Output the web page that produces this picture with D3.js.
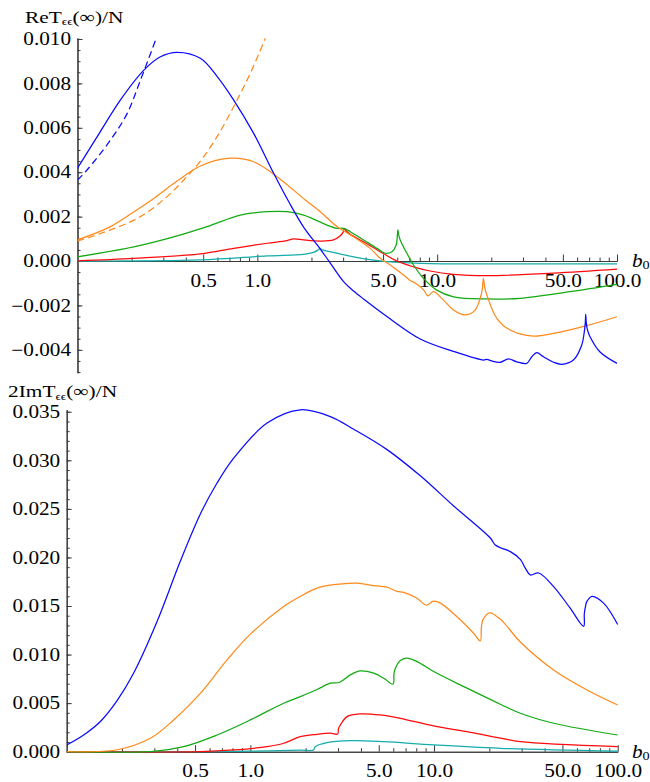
<!DOCTYPE html>
<html>
<head>
<meta charset="utf-8">
<script src="https://cdn.jsdelivr.net/npm/d3@7"></script>
<style>
  body { margin: 0; background: #fff; }
  text { font-family: "Liberation Serif", "Times New Roman", serif; fill: #000; }
</style>
</head>
<body>
<svg id="chart" width="650" height="782"></svg>
<script>
"use strict";

// axe des b0 (log) : graduations communes aux deux panneaux
var xMajorTicks = [0.5, 1, 5, 10, 50, 100]
var xTickLabels = ["0.5", "1.0", "5.0", "10.0", "50.0", "100.0"]

// panneau du haut : ReT(inf)/N
var reYTicks = [-0.004, -0.002, 0, 0.002, 0.004, 0.006, 0.008, 0.010]
var reBlue = [[0.1,0.00418],[0.134,0.00583],[0.173,0.00725],[0.234,0.0086],[0.289,0.0092],[0.358,0.0094],[0.482,0.00913],[0.597,0.00832],[0.739,0.00725],[0.954,0.00575],[1.232,0.00395],[1.493,0.00268],[1.808,0.00153],[2.239,0.00054],[2.489,0.00002],[3.017,-0.00093],[3.428,-0.00135],[3.896,-0.00171],[5.255,-0.0025],[8.05,-0.00351],[12.3,-0.00407],[18.1,-0.00446],[18.9,-0.00443],[20.1,-0.0045],[22.4,-0.00456],[24.9,-0.00441],[27.7,-0.00454],[31.5,-0.00461],[33.6,-0.00431],[35.8,-0.00413],[39.0,-0.00431],[44.3,-0.00456],[49.3,-0.00465],[57.2,-0.00446],[63.7,-0.00378],[65.6,-0.00326],[66.6,-0.0028],[67.0,-0.0024],[67.5,-0.0028],[68.5,-0.0031],[70.8,-0.00341],[80.5,-0.0041],[100,-0.00461]]
var reBlueDash = [[0.1,0.00365],[0.113,0.0041],[0.1526,0.00545],[0.189,0.00665],[0.224,0.00815],[0.274,0.01003]]
var reOrange = [[0.1,0.00095],[0.1526,0.00155],[0.2055,0.00221],[0.2654,0.00282],[0.358,0.0036],[0.482,0.00428],[0.708,0.00463],[0.954,0.00447],[1.286,0.0038],[1.848,0.00275],[2.239,0.00222],[2.773,0.00155],[3.428,0.00109],[4.245,0.00057],[4.824,0.00012],[5.483,-0.00018],[6.498,-0.00063],[7.079,-0.00088],[7.5,-0.00098],[8.4,-0.0013],[8.9,-0.00157],[9.54,-0.00138],[10.84,-0.00176],[12.32,-0.00221],[14.31,-0.00243],[16.26,-0.00221],[17.34,-0.00168],[17.8,-0.0013],[18.08,-0.00078],[18.4,-0.0012],[18.89,-0.00153],[21.46,-0.00258],[25.44,-0.00311],[34.28,-0.00338],[44.28,-0.00326],[67.88,-0.00291],[100,-0.00251]]
var reOrangeDash = [[0.1,0.0009],[0.1526,0.0014],[0.2239,0.002],[0.315,0.0029],[0.3896,0.00365],[0.4824,0.0045],[0.597,0.0056],[0.7385,0.00695],[0.9145,0.00846],[1.108,0.01003]]
var reGreen = [[0.1,0.00019],[0.2055,0.00064],[0.3428,0.00109],[0.5255,0.00155],[0.8046,0.00207],[1.132,0.00222],[1.462,0.00222],[1.808,0.00207],[2.055,0.00189],[2.439,0.00162],[2.773,0.00147],[3.017,0.00147],[3.286,0.00132],[3.896,0.00095],[4.624,0.00057],[5.142,0.00035],[5.603,0.00042],[5.918,0.00072],[6.0,0.0011],[6.048,0.0014],[6.1,0.0012],[6.229,0.00095],[6.787,0.00035],[7.384,-0.00018],[8.393,-0.00078],[9.961,-0.00131],[12.32,-0.00161],[18.89,-0.00171],[28.91,-0.00168],[54.83,-0.00138],[100,-0.00105]]
var reRed = [[0.1,0.00001],[0.2055,0.00012],[0.4824,0.00032],[0.7385,0.00057],[1.132,0.0008],[1.462,0.00092],[1.591,0.001],[1.808,0.00095],[2.239,0.0009],[2.654,0.00095],[2.891,0.00114],[3.0,0.0013],[3.044,0.00147],[3.12,0.00135],[3.286,0.0012],[3.896,0.00087],[4.824,0.00042],[5.971,0.0],[7.384,-0.00026],[9.145,-0.00045],[12.3,-0.0006],[18.9,-0.00066],[44.3,-0.00055],[100,-0.00037]]
var reCyan = [[0.1,0.0],[0.4824,0.00005],[1.132,0.00023],[1.808,0.0003],[2.055,0.00039],[2.18,0.0005],[2.239,0.00057],[2.3,0.0005],[2.439,0.00045],[3.428,0.00019],[5.255,-0.00003],[9.145,-0.00012],[20,-0.00013],[100,-0.00013]]

// panneau du bas : 2ImT(inf)/N
var imYTicks = [0, 0.005, 0.010, 0.015, 0.020, 0.025, 0.030, 0.035]
var imBlue = [[0.1,0.00069],[0.1237,0.00172],[0.1526,0.00311],[0.1881,0.00525],[0.2316,0.0081],[0.3105,0.0134],[0.4159,0.01963],[0.5342,0.02448],[0.6588,0.02766],[0.8111,0.03022],[1.233,0.03384],[1.872,0.0352],[2.726,0.0345],[3.651,0.0332],[5.549,0.0311],[8.42,0.0284],[12.79,0.0253],[20.26,0.022],[21.5,0.0213],[22.96,0.021],[26.03,0.0206],[29.5,0.0198],[31.41,0.0189],[33.43,0.0182],[37.11,0.0184],[44.78,0.017],[55,0.0148],[65.25,0.0129],[65.8,0.0142],[67,0.0151],[68.09,0.0155],[72.46,0.016],[83.8,0.0153],[100,0.0131]]
var imOrange = [[0.1,0.0],[0.1881,0.0002],[0.2855,0.00138],[0.3824,0.00327],[0.5342,0.006],[0.7466,0.00945],[1.0,0.0121],[1.518,0.01495],[1.872,0.016],[2.307,0.01685],[2.841,0.0172],[3.809,0.01736],[4.691,0.0171],[5.549,0.01695],[6.29,0.0165],[6.832,0.0164],[8.08,0.0158],[9.08,0.0151],[9.95,0.0155],[10.82,0.0153],[13.34,0.0139],[16.43,0.0122],[17.87,0.0114],[18.1,0.0128],[18.48,0.0136],[20.08,0.0143],[22.96,0.01365],[29.5,0.0113],[44.78,0.00842],[68.09,0.00636],[100,0.00481]]
var imGreen = [[0.1,0.0],[0.2855,0.00002],[0.4334,0.00052],[0.6588,0.00172],[1.0,0.00327],[1.518,0.00499],[1.872,0.00567],[2.307,0.0064],[2.726,0.00705],[3.063,0.00715],[3.503,0.00791],[3.971,0.00832],[4.691,0.00808],[5.318,0.00757],[5.982,0.00695],[6.05,0.008],[6.157,0.0086],[6.554,0.00938],[7.067,0.00963],[8.08,0.00928],[9.95,0.00825],[15.12,0.00654],[22.96,0.00489],[29.5,0.00396],[44.78,0.00293],[100,0.00172]]
var imRed = [[0.1,0.0],[0.5342,0.00001],[0.8111,0.00018],[1.233,0.00052],[1.518,0.00087],[1.872,0.00155],[2.307,0.00179],[2.726,0.0019],[2.987,0.00182],[3.02,0.0024],[3.09,0.00275],[3.36,0.00361],[3.971,0.00389],[5.103,0.00378],[6.554,0.00344],[9.95,0.00265],[15.12,0.00206],[22.96,0.0014],[29.5,0.00103],[100,0.00052]]
var imCyan = [[0.1,0.0],[0.5342,0.0],[1.0,0.00005],[1.872,0.00015],[2.211,0.00018],[2.235,0.0004],[2.259,0.00052],[2.615,0.00093],[3.503,0.00113],[5.318,0.00103],[9.95,0.00069],[22.96,0.00035],[100,0.00007]]

var BLUE = "#0a0aff", ORANGE = "#ff8a1c", GREEN = "#12aa12", RED = "#ff0a0a", CYAN = "#14acac"
var STRETCH = "scale(1.18,1)"   // la figure d'origine est étirée horizontalement

var svg = d3.select("#chart")

/**
 * Dessine un panneau : axes à la Mathematica, courbes, titre.
 */
function panel(cfg) {
  var x = d3.scaleLog().domain([0.1, 100]).range([cfg.x0, cfg.x1])
  var y = d3.scaleLinear().domain(cfg.yDomain).range([cfg.yBottom, cfg.yTop])
  var g = svg.append("g")
  var y0 = y(0)

  g.append("clipPath").attr("id", cfg.id)
    .append("rect")
      .attr("x", cfg.x0).attr("y", cfg.yTop - 1)
      .attr("width", cfg.x1 - cfg.x0 + 2).attr("height", cfg.yBottom - cfg.yTop + 2)

  // axe vertical : petites graduations puis grandes avec étiquettes
  g.append("g")
    .attr("transform", "translate(" + cfg.x0 + ",0)")
    .call(d3.axisRight(y).tickValues(y.ticks(cfg.minorCount)).tickSizeInner(3).tickSizeOuter(0).tickFormat(""))
  var ya = g.append("g")
    .attr("transform", "translate(" + cfg.x0 + ",0)")
    .call(d3.axisLeft(y).tickValues(cfg.yTicks).tickSizeInner(-5).tickSizeOuter(0).tickPadding(5.5)
      .tickFormat(function(d) { return (d < 0 ? "\u2212" : "") + d3.format(".3f")(Math.abs(d)) }))
  ya.selectAll("text").attr("transform", STRETCH).style("font-size", "18px")

  // axe horizontal en y = 0, graduations vers le haut
  var minors = x.ticks().filter(function(d) { return d > 0.1 && xMajorTicks.indexOf(d) < 0 })
  g.append("g")
    .attr("transform", "translate(0," + y0 + ")")
    .call(d3.axisBottom(x).tickValues(minors).tickSizeInner(-3.5).tickSizeOuter(0).tickFormat(""))
  var xa = g.append("g")
    .attr("transform", "translate(0," + y0 + ")")
    .call(d3.axisBottom(x).tickValues(xMajorTicks).tickSizeInner(-6.5).tickSizeOuter(0)
      .tickFormat(function(d, i) { return xTickLabels[i] }))
  xa.selectAll("text").attr("y", 25.5).attr("dy", null).attr("transform", STRETCH).style("font-size", "18px")

  g.selectAll(".domain").attr("stroke", "#3a3a3a").attr("stroke-width", 1.1)
  g.selectAll(".tick line").attr("stroke", "#3a3a3a")

  // étiquette b0
  var lab = g.append("text")
    .attr("transform", "translate(632," + (y0 + 6) + ") " + STRETCH)
    .style("font-size", "18px")
  lab.append("tspan").style("font-style", "italic").text("b")
  lab.append("tspan").attr("dy", 2).style("font-size", "12px").text("0")

  // titre
  var t = g.append("text")
    .attr("transform", "translate(" + cfg.titleX + "," + cfg.titleY + ") " + "scale(1.22,1)")
    .style("font-size", "17.5px")
  t.append("tspan").text(cfg.titlePrefix)
  t.append("tspan").attr("dy", 2.5).style("font-size", "11px").text("\u03f5\u03f5")
  t.append("tspan").attr("dy", -2.5).text("(\u221e)/N")

  // courbes
  var line = d3.line()
    .x(function(d) { return x(d[0]) })
    .y(function(d) { return y(d[1]) })
    .curve(d3.curveCatmullRom.alpha(0.5))

  var curves = g.append("g").attr("clip-path", "url(#" + cfg.id + ")")
  cfg.series.forEach(function(s) {
    curves.append("path")
      .attr("d", line(s.data))
      .attr("fill", "none")
      .attr("stroke", s.color)
      .attr("stroke-width", 1.25)
      .attr("stroke-dasharray", s.dash || null)
  })
}

panel({
  id: "clipRe",
  x0: 77.5, x1: 617,
  yDomain: [-0.00503, 0.01004], yBottom: 372.7, yTop: 38.1,
  yTicks: reYTicks, minorCount: 30,
  titleX: 25, titleY: 22.5, titlePrefix: "ReT",
  series: [
    { data: reCyan, color: CYAN },
    { data: reRed, color: RED },
    { data: reGreen, color: GREEN },
    { data: reOrangeDash, color: ORANGE, dash: "7,4" },
    { data: reOrange, color: ORANGE },
    { data: reBlueDash, color: BLUE, dash: "7,4" },
    { data: reBlue, color: BLUE }
  ]
})

panel({
  id: "clipIm",
  x0: 66.7, x1: 617.7,
  yDomain: [0, 0.0352], yBottom: 751.7, yTop: 409.8,
  yTicks: imYTicks, minorCount: 35,
  titleX: 8, titleY: 397, titlePrefix: "2ImT",
  series: [
    { data: imCyan, color: CYAN },
    { data: imRed, color: RED },
    { data: imGreen, color: GREEN },
    { data: imOrange, color: ORANGE },
    { data: imBlue, color: BLUE }
  ]
})
</script>
</body>
</html>
